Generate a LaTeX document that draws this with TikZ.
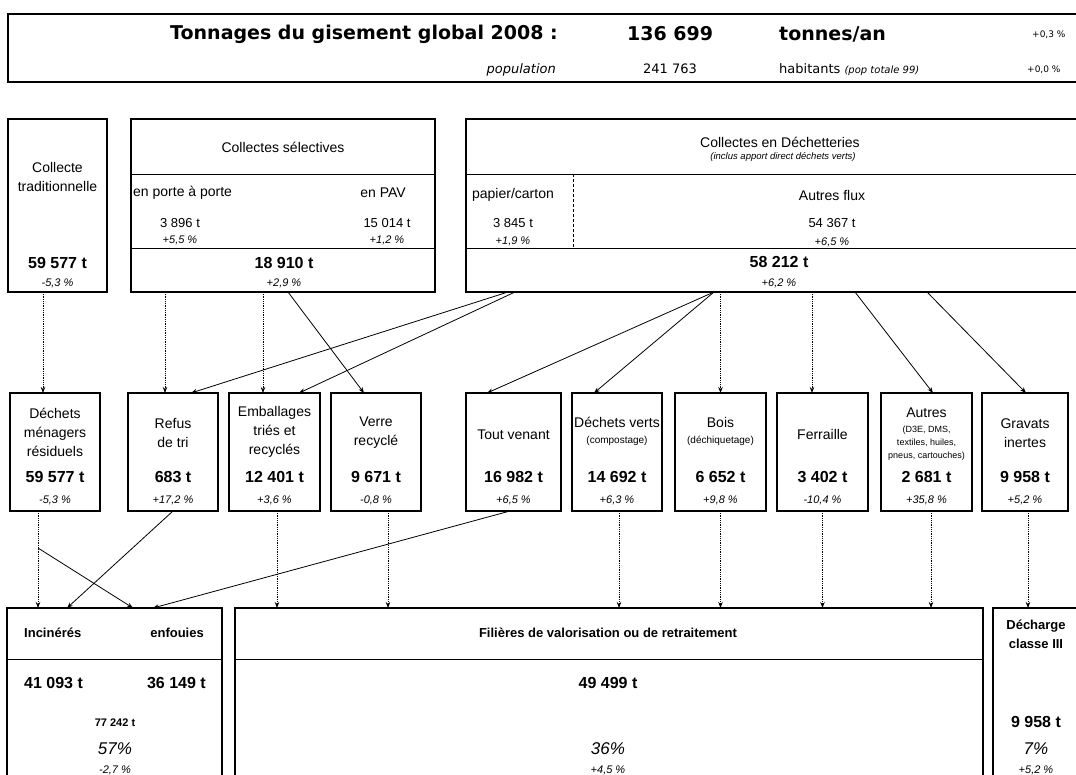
\documentclass[tikz,border=0pt]{standalone}
\usepackage{fontspec}
\setmainfont{Liberation Sans}
\newfontfamily\comicfont{DejaVu Sans}
\usetikzlibrary{arrows.meta}

\tikzset{
  every node/.style={inner sep=0pt},
  box/.style={draw, line width=1.8pt, inner sep=0pt, outer sep=0pt},
  rule/.style={line width=1pt},
  feed/.style={-{Stealth[length=6pt,width=4.5pt]}, line width=0.8pt},
  vfeed/.style={feed, densely dotted},
  lbl/.style={font=\fontsize{14}{19}\selectfont, align=center},
  small/.style={font=\fontsize{10}{13}\selectfont, align=center},
  qty/.style={font=\fontsize{13}{15}\selectfont},
  tons/.style={font=\fontsize{16}{18}\selectfont\bfseries},
  pct/.style={font=\fontsize{11}{13}\selectfont\itshape},
  head/.style={font=\fontsize{13}{19}\selectfont\bfseries, align=center},
  share/.style={font=\fontsize{17}{20}\selectfont\itshape},
}

\begin{document}
\begin{tikzpicture}[x=1pt,y=-1pt]
\useasboundingbox (0,0) rectangle (1076,774);

% en-tete
\node[box, minimum width=1082, minimum height=68] (hdr) at (549,48) {};
\node[anchor=west, font=\comicfont\fontsize{19}{22}\selectfont\bfseries] (titre) at (170,34) {Tonnages du gisement global 2008 :};
\node[anchor=west, font=\comicfont\fontsize{19}{22}\selectfont\bfseries] (total) at (627,34) {136 699};
\node[anchor=west, font=\comicfont\fontsize{19}{22}\selectfont\bfseries] (unite) at (779,34) {tonnes/an};
\node[anchor=west, font=\comicfont\fontsize{9}{11}\selectfont] (total-p) at (1032,35) {+0,3 \%};
\node[anchor=east, font=\comicfont\fontsize{13}{15}\selectfont\itshape] (pop) at (556,70) {population};
\node[anchor=west, font=\comicfont\fontsize{13}{15}\selectfont] (pop-n) at (643,69) {241 763};
\node[anchor=west, font=\comicfont\fontsize{13}{15}\selectfont] (hab) at (779,70) {habitants {\fontsize{10}{12}\selectfont\itshape (pop totale 99)}};
\node[anchor=west, font=\comicfont\fontsize{9}{11}\selectfont] (pop-p) at (1027,70) {+0,0 \%};

% collectes
\node[box, minimum width=99, minimum height=173] (trad) at (57.5,205.5) {};
\node[box, minimum width=304, minimum height=173] (sel) at (283,205.5) {};
\node[box, minimum width=624, minimum height=173] (dech) at (778,205.5) {};
\draw[rule] (131,174) -- (435,174);
\draw[rule] (131,248) -- (435,248);
\draw[rule] (466,174) -- (1090,174);
\draw[rule] (466,248) -- (1090,248);
\draw[densely dashed, line width=0.6pt] (573,174) -- (573,248);

\node[lbl] (trad-nom) at (57.5,177) {Collecte\\traditionnelle};
\node[tons] (trad-t) at (57.5,263) {59 577 t};
\node[pct] (trad-p) at (57.5,283) {-5,3 \%};

\node[lbl] (sel-nom) at (283,147) {Collectes sélectives};
\node[lbl, anchor=west] (sel-pap) at (133,193) {en porte à porte};
\node[lbl] (sel-pav) at (383,193) {en PAV};
\node[qty] (sel-pap-t) at (180,223) {3 896 t};
\node[pct] (sel-pap-p) at (180,240) {+5,5 \%};
\node[qty] (sel-pav-t) at (387,223) {15 014 t};
\node[pct] (sel-pav-p) at (387,240) {+1,2 \%};
\node[tons] (sel-t) at (284,263) {18 910 t};
\node[pct] (sel-p) at (284,283) {+2,9 \%};

\node[lbl] (dech-nom) at (780,142) {Collectes en Déchetteries};
\node[font=\fontsize{9.5}{11}\selectfont\itshape] (dech-sous) at (783,157) {(inclus apport direct déchets verts)};
\node[lbl] (dech-pc) at (513,195) {papier/carton};
\node[qty] (dech-pc-t) at (513,223) {3 845 t};
\node[pct] (dech-pc-p) at (513,241) {+1,9 \%};
\node[lbl] (dech-af) at (832,195) {Autres flux};
\node[qty] (dech-af-t) at (832,223) {54 367 t};
\node[pct] (dech-af-p) at (832,242) {+6,5 \%};
\node[tons] (dech-t) at (779,262) {58 212 t};
\node[pct] (dech-p) at (779,283) {+6,2 \%};

% flux
\node[box, minimum width=90, minimum height=118] (dmr) at (55,452) {};
\node[box, minimum width=90, minimum height=118] (refus) at (173,452) {};
\node[box, minimum width=91, minimum height=118] (emb) at (274.5,452) {};
\node[box, minimum width=90, minimum height=118] (verre) at (376,452) {};
\node[box, minimum width=95, minimum height=118] (tv) at (513.5,452) {};
\node[box, minimum width=90, minimum height=118] (dv) at (617,452) {};
\node[box, minimum width=91, minimum height=118] (bois) at (720.5,452) {};
\node[box, minimum width=91, minimum height=118] (ferr) at (822.5,452) {};
\node[box, minimum width=91, minimum height=118] (autres) at (926.5,452) {};
\node[box, minimum width=86, minimum height=118] (grav) at (1025,452) {};

\node[lbl] (dmr-nom) at (55,432) {Déchets\\ménagers\\résiduels};
\node[lbl] (refus-nom) at (173,433) {Refus\\de tri};
\node[lbl] (emb-nom) at (274.5,432) {Emballages\\triés et\\recyclés};
\node[lbl] (verre-nom) at (376,433) {Verre\\recyclé};
\node[lbl] (tv-nom) at (513.5,435) {Tout venant};
\node[lbl] (dv-nom) at (617,422) {Déchets verts};
\node[small] (dv-sous) at (617,441) {(compostage)};
\node[lbl] (bois-nom) at (720.5,422) {Bois};
\node[small] (bois-sous) at (720.5,441) {(déchiquetage)};
\node[lbl] (ferr-nom) at (822.5,434) {Ferraille};
\node[lbl] (autres-nom) at (926.5,413) {Autres};
\node[small, font=\fontsize{9}{13}\selectfont] (autres-sous) at (926.5,443) {(D3E, DMS,\\textiles, huiles,\\pneus, cartouches)};
\node[lbl] (grav-nom) at (1025,433) {Gravats\\inertes};

\node[tons] (dmr-t) at (55,477) {59 577 t};
\node[tons] (refus-t) at (173,477) {683 t};
\node[tons] (emb-t) at (274.5,477) {12 401 t};
\node[tons] (verre-t) at (376,477) {9 671 t};
\node[tons] (tv-t) at (513.5,477) {16 982 t};
\node[tons] (dv-t) at (617,477) {14 692 t};
\node[tons] (bois-t) at (720.5,477) {6 652 t};
\node[tons] (ferr-t) at (822.5,477) {3 402 t};
\node[tons] (autres-t) at (926.5,477) {2 681 t};
\node[tons] (grav-t) at (1025,477) {9 958 t};

\node[pct] (dmr-p) at (55,500) {-5,3 \%};
\node[pct] (refus-p) at (173,500) {+17,2 \%};
\node[pct] (emb-p) at (274.5,500) {+3,6 \%};
\node[pct] (verre-p) at (376,500) {-0,8 \%};
\node[pct] (tv-p) at (513.5,500) {+6,5 \%};
\node[pct] (dv-p) at (617,500) {+6,3 \%};
\node[pct] (bois-p) at (720.5,500) {+9,8 \%};
\node[pct] (ferr-p) at (822.5,500) {-10,4 \%};
\node[pct] (autres-p) at (926.5,500) {+35,8 \%};
\node[pct] (grav-p) at (1025,500) {+5,2 \%};

% destinations
\node[box, minimum width=215, minimum height=172] (inc) at (114.5,694) {};
\node[box, minimum width=748, minimum height=172] (fil) at (609,694) {};
\node[box, minimum width=97, minimum height=172] (dcl) at (1041.5,694) {};
\draw[rule] (7,659) -- (222,659);
\draw[rule] (235,659) -- (983,659);

\node[head, anchor=west] (inc-nom) at (24,633) {Incinérés};
\node[head, anchor=east] (enf-nom) at (204,633) {enfouies};
\node[tons, anchor=west] (inc-t) at (24,683) {41 093 t};
\node[tons, anchor=east] (enf-t) at (206,683) {36 149 t};
\node[font=\fontsize{11}{13}\selectfont\bfseries] (inc-tot) at (115,723) {77 242 t};
\node[share] (inc-part) at (115,749) {57\%};
\node[pct] (inc-p) at (115,770) {-2,7 \%};

\node[head] (fil-nom) at (608,633) {Filières de valorisation ou de retraitement};
\node[tons] (fil-t) at (608,683) {49 499 t};
\node[share] (fil-part) at (608,749) {36\%};
\node[pct] (fil-p) at (608,770) {+4,5 \%};

\node[head] (dcl-nom) at (1036,634) {Décharge\\classe III};
\node[tons] (dcl-t) at (1036,722) {9 958 t};
\node[share] (dcl-part) at (1036,749) {7\%};
\node[pct] (dcl-p) at (1036,770) {+5,2 \%};

% collectes -> flux
\draw[vfeed] ([xshift=-12pt]dmr.north |- trad.south) -- ([xshift=-12pt]dmr.north);
\draw[vfeed] ([xshift=-8pt]refus.north |- sel.south) -- ([xshift=-8pt]refus.north);
\draw[vfeed] ([xshift=-11.5pt]emb.north |- sel.south) -- ([xshift=-11.5pt]emb.north);
\draw[feed] ([xshift=5pt]sel.south) -- ([xshift=-12pt]verre.north);
\draw[feed] ([xshift=-270pt]dech.south) -- ([xshift=18pt]refus.north);
\draw[feed] ([xshift=-263pt]dech.south) -- ([xshift=24.5pt]emb.north);
\draw[feed] ([xshift=-64pt]dech.south) -- ([xshift=-26.5pt]tv.north);
\draw[feed] ([xshift=-64pt]dech.south) -- ([xshift=-23pt]dv.north);
\draw[vfeed] (bois.north |- dech.south) -- (bois.north);
\draw[vfeed] ([xshift=-10.5pt]ferr.north |- dech.south) -- ([xshift=-10.5pt]ferr.north);
\draw[feed] ([xshift=77pt]dech.south) -- ([xshift=6.5pt]autres.north);
\draw[feed] ([xshift=149pt]dech.south) -- ([xshift=1pt]grav.north);

% flux -> destinations
\coordinate (dmr-split) at ([xshift=-17pt,yshift=-37pt]dmr.south);
\draw[vfeed] ([xshift=-17pt]dmr.south) -- ([xshift=-17pt]dmr.south |- inc.north);
\draw[feed] (dmr-split) -- ([xshift=18.5pt]inc.north);
\draw[feed] (refus.south) -- ([xshift=-47.5pt]inc.north);
\draw[feed] ([xshift=-3.5pt]tv.south) -- ([xshift=38.5pt]inc.north);
\draw[vfeed] ([xshift=2.5pt]emb.south) -- ([xshift=2.5pt]emb.south |- fil.north);
\draw[vfeed] ([xshift=12pt]verre.south) -- ([xshift=12pt]verre.south |- fil.north);
\draw[vfeed] ([xshift=2pt]dv.south) -- ([xshift=2pt]dv.south |- fil.north);
\draw[vfeed] (bois.south) -- (bois.south |- fil.north);
\draw[vfeed] (ferr.south) -- (ferr.south |- fil.north);
\draw[vfeed] ([xshift=4.5pt]autres.south) -- ([xshift=4.5pt]autres.south |- fil.north);
\draw[vfeed] ([xshift=3pt]grav.south) -- ([xshift=3pt]grav.south |- dcl.north);
\end{tikzpicture}
\end{document}
